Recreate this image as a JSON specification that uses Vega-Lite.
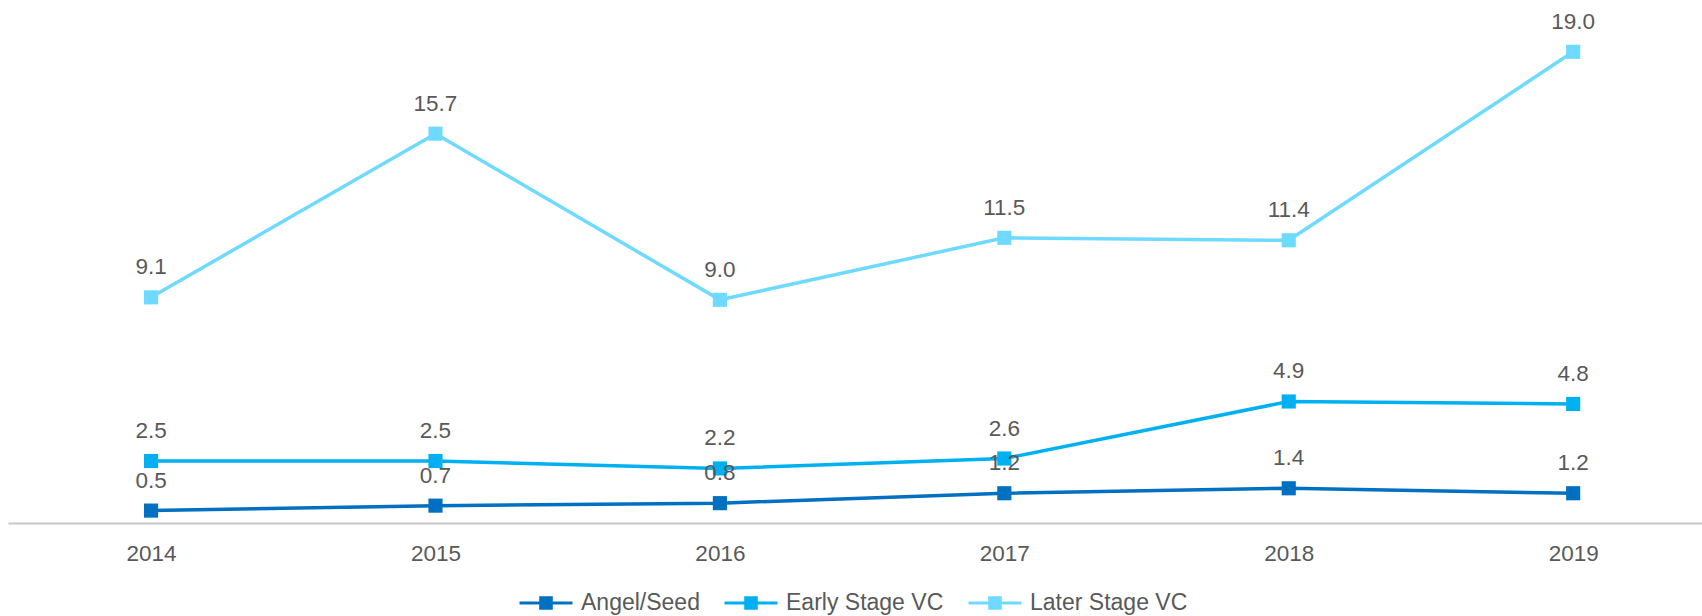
{
  "$schema": "https://vega.github.io/schema/vega-lite/v6.json",
  "width": 1694,
  "height": 523,
  "autosize": "none",
  "padding": {"left": 8, "top": 0, "right": 0, "bottom": 93},
  "background": "white",
  "config": {"view": {"stroke": null}, "font": "Liberation Sans"},
  "data": {
    "values": [
      {"year": 2014, "series": "Angel/Seed", "value": 0.5},
      {"year": 2015, "series": "Angel/Seed", "value": 0.7},
      {"year": 2016, "series": "Angel/Seed", "value": 0.8},
      {"year": 2017, "series": "Angel/Seed", "value": 1.2},
      {"year": 2018, "series": "Angel/Seed", "value": 1.4},
      {"year": 2019, "series": "Angel/Seed", "value": 1.2},
      {"year": 2014, "series": "Early Stage VC", "value": 2.5},
      {"year": 2015, "series": "Early Stage VC", "value": 2.5},
      {"year": 2016, "series": "Early Stage VC", "value": 2.2},
      {"year": 2017, "series": "Early Stage VC", "value": 2.6},
      {"year": 2018, "series": "Early Stage VC", "value": 4.9},
      {"year": 2019, "series": "Early Stage VC", "value": 4.8},
      {"year": 2014, "series": "Later Stage VC", "value": 9.1},
      {"year": 2015, "series": "Later Stage VC", "value": 15.7},
      {"year": 2016, "series": "Later Stage VC", "value": 9.0},
      {"year": 2017, "series": "Later Stage VC", "value": 11.5},
      {"year": 2018, "series": "Later Stage VC", "value": 11.4},
      {"year": 2019, "series": "Later Stage VC", "value": 19.0}
    ]
  },
  "encoding": {
    "x": {
      "field": "year",
      "type": "quantitative",
      "scale": {"domain": [2013.497, 2019.453], "nice": false, "zero": false},
      "axis": {
        "values": [2014, 2015, 2016, 2017, 2018, 2019],
        "format": "d",
        "grid": false,
        "ticks": false,
        "tickSize": 0,
        "domainColor": "#C8C8C8",
        "domainWidth": 2,
        "labelFontSize": 22.5,
        "labelColor": "#595959",
        "labelBaseline": "alphabetic",
        "labelPadding": 37,
        "labelFont": "Liberation Sans",
        "title": null
      }
    },
    "y": {
      "field": "value",
      "type": "quantitative",
      "scale": {"domain": [0, 21.09], "nice": false},
      "axis": null
    },
    "color": {
      "field": "series",
      "type": "nominal",
      "scale": {
        "domain": ["Angel/Seed", "Early Stage VC", "Later Stage VC"],
        "range": ["#0070C0", "#00B0F0", "#6FDAFF"]
      },
      "legend": {
        "orient": "none",
        "legendX": 510,
        "legendY": 575,
        "direction": "horizontal",
        "title": null,
        "symbolType": "M-1,0H1M-0.2,-0.2H0.2V0.2H-0.2Z",
        "symbolSize": 2809,
        "symbolStrokeWidth": 3,
        "labelFontSize": 23,
        "labelColor": "#595959",
        "labelFont": "Liberation Sans",
        "labelOffset": 7,
        "columnPadding": 18,
        "padding": 0,
        "encode": {
          "symbols": {
            "update": {
              "fill": {"scale": "color", "field": "value"},
              "stroke": {"scale": "color", "field": "value"},
              "opacity": {"value": 1},
              "strokeWidth": {"value": 3}
            }
          }
        }
      }
    }
  },
  "layer": [
    {"mark": {"type": "line", "strokeWidth": 3.5}},
    {"mark": {"type": "point", "shape": "square", "filled": true, "opacity": 1, "size": 200}},
    {
      "mark": {"type": "text", "dy": -23, "baseline": "alphabetic", "fontSize": 22.5, "font": "Liberation Sans"},
      "encoding": {
        "text": {"field": "value", "type": "quantitative", "format": ".1f"},
        "color": {"value": "#595959"}
      }
    }
  ]
}
